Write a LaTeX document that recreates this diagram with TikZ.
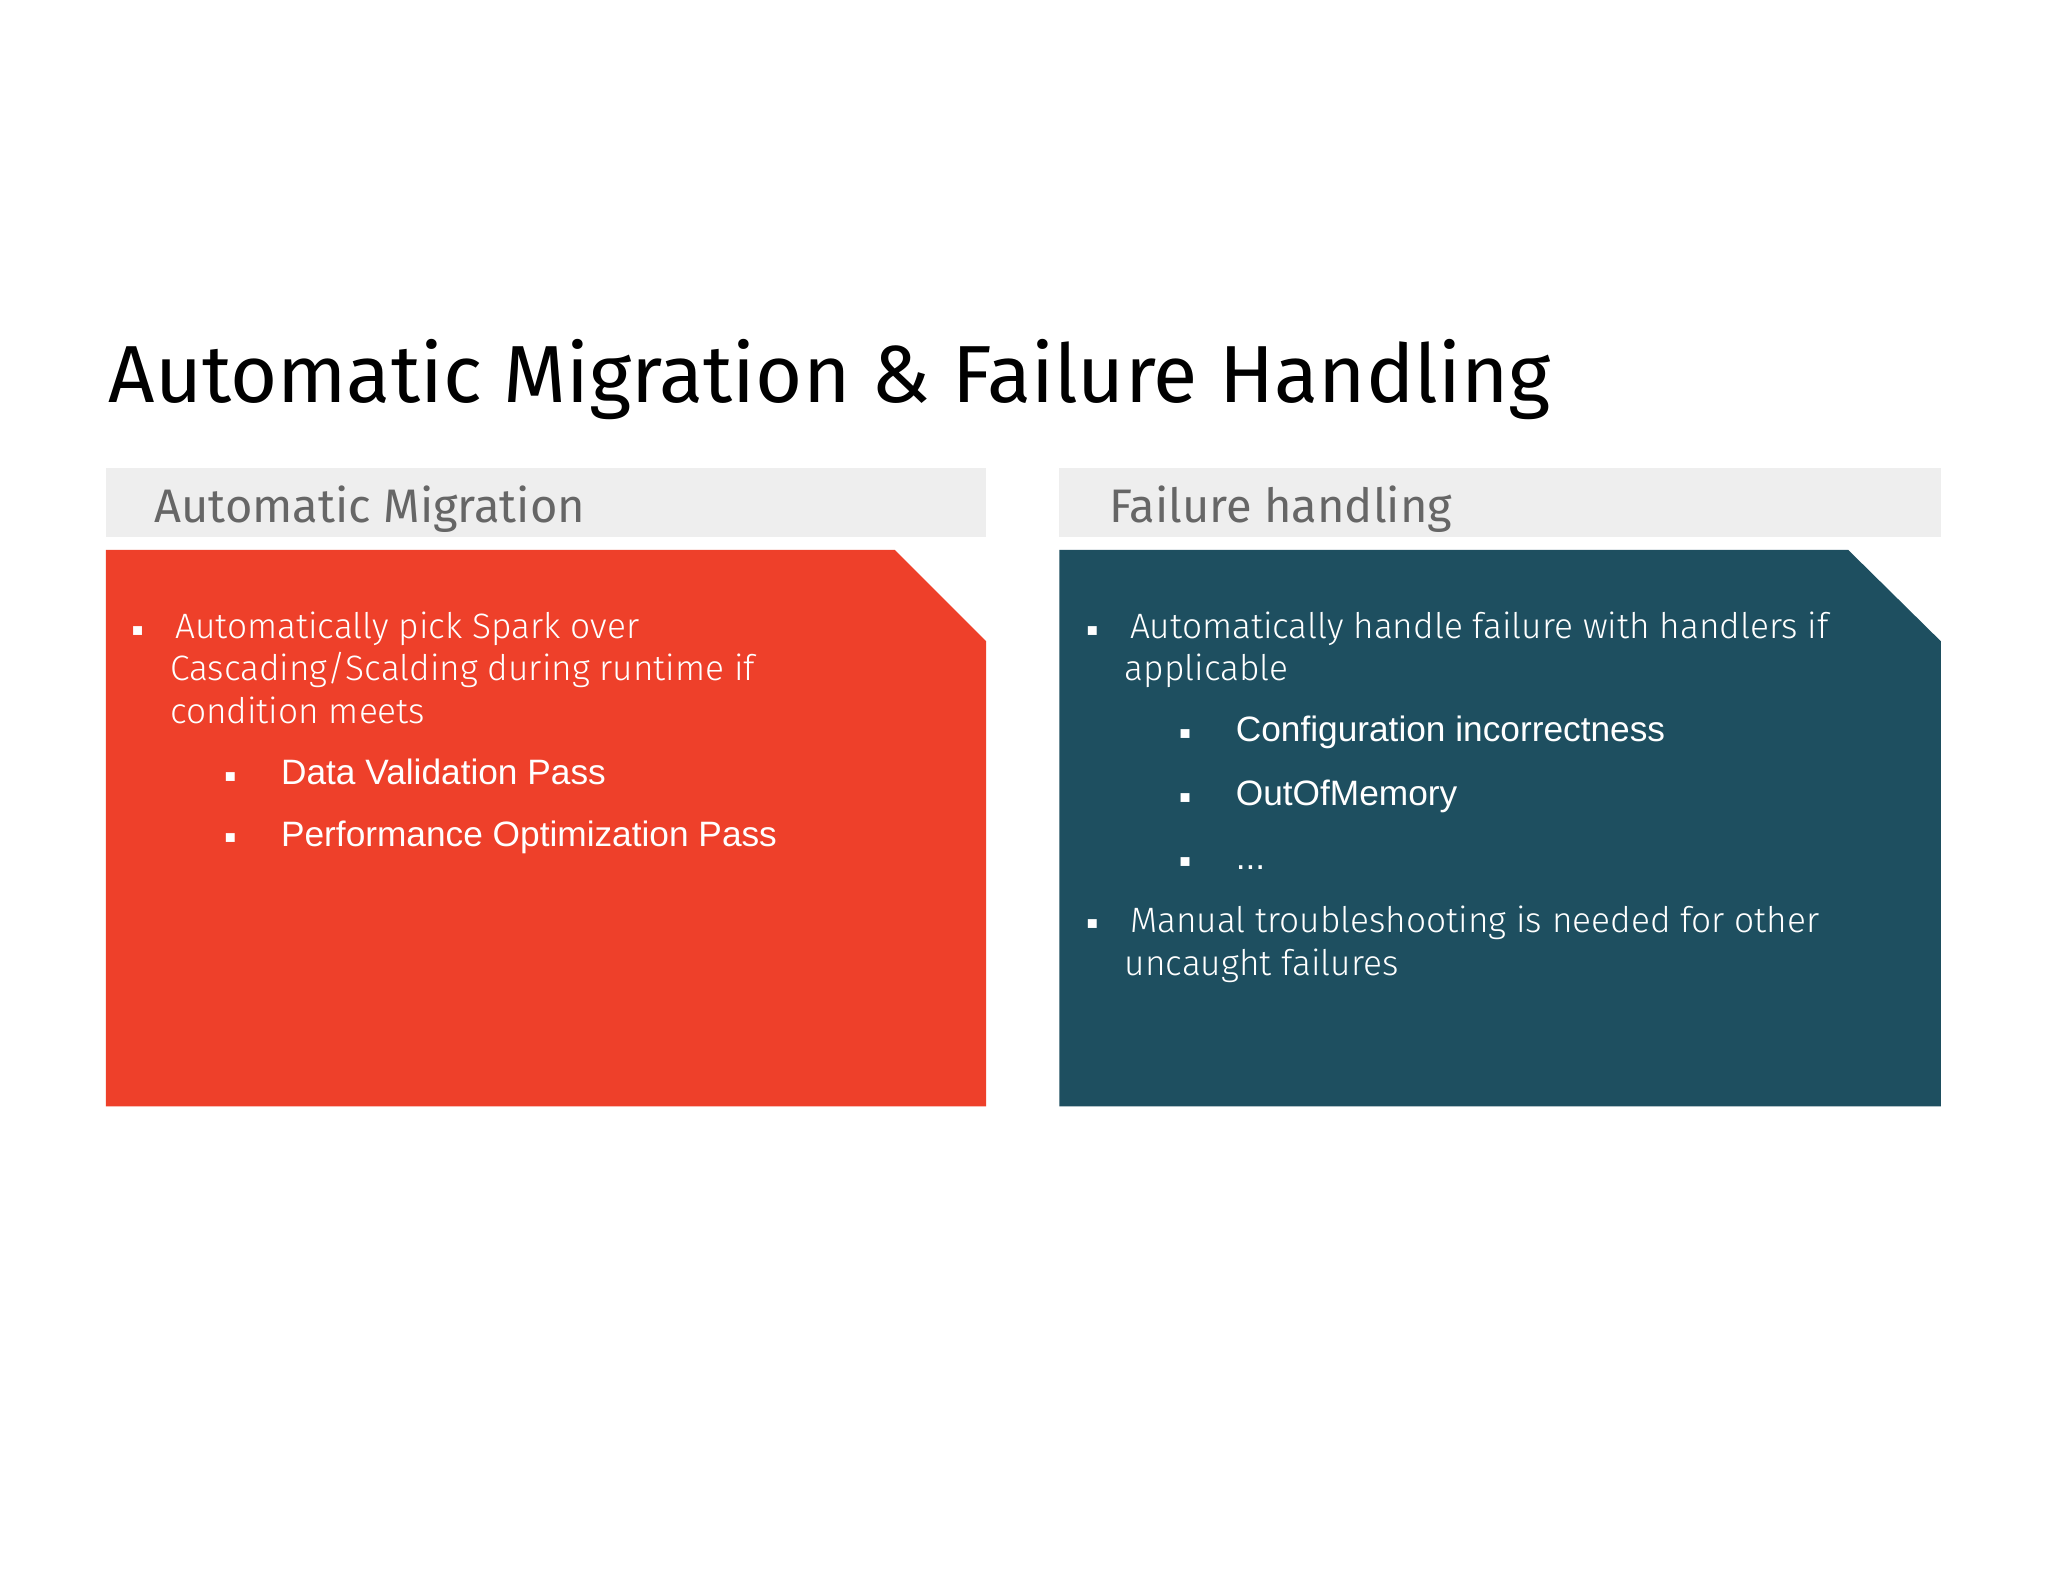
\documentclass[tikz,border=0pt]{standalone}
\usepackage{fontspec}
\setmainfont{Fira Sans Light}
\newfontfamily\arialf{Liberation Sans}
\newfontfamily\regf{Fira Sans}
\definecolor{redbox}{HTML}{EE402A}
\definecolor{tealbox}{HTML}{1E4F60}
\definecolor{hdrgray}{HTML}{EEEEEE}
\definecolor{hdrtext}{HTML}{666666}
\begin{document}
\begin{tikzpicture}[x=1pt,y=-1pt,
  txt/.style={anchor=base west,inner sep=0,text=white,font=\fontsize{27}{33}\selectfont},
  sub/.style={anchor=base west,inner sep=0,text=white,font=\arialf\fontsize{27}{33}\selectfont},
  bul/.style={anchor=base west,inner sep=0,text=white,font=\arialf\fontsize{14}{14}\selectfont},
  hdr/.style={anchor=base west,inner sep=0,text=hdrtext,font=\regf\fontsize{36}{36}\selectfont}]
\useasboundingbox[fill=white] (0,0) rectangle (1568,1211);
\node[anchor=base west,inner sep=0,font=\regf\fontsize{62}{62}\selectfont] (title) at (83,308) {Automatic Migration \& Failure Handling};
% headers
\fill[hdrgray] (81,358) rectangle (755,411);
\fill[hdrgray] (811,358) rectangle (1486,411);
\node[hdr] (h1) at (118,400) {Automatic Migration};
\node[hdr] (h2) at (849,400) {Failure handling};
% boxes
\fill[redbox] (81,421) -- (685,421) -- (755,491) -- (755,847) -- (81,847) -- cycle;
\fill[tealbox] (811,421) -- (1415,421) -- (1486,491) -- (1486,847) -- (811,847) -- cycle;
% left content
\node[bul] (lb1) at (101,487) {■};
\node[txt] (l1) at (134,489) {Automatically pick Spark over};
\node[txt] (l2) at (130,521) {Cascading/Scalding during runtime if};
\node[txt] (l3) at (130,554) {condition meets};
\node[bul] (lb2) at (172,599) {■};
\node[sub] (l4) at (215,601) {Data Validation Pass};
\node[bul] (lb3) at (172,646) {■};
\node[sub] (l5) at (215,648) {Performance Optimization Pass};
% right content
\node[bul] (rb1) at (832,487) {■};
\node[txt] (r1) at (865,489) {Automatically handle failure with handlers if};
\node[txt] (r2) at (861,521) {applicable};
\node[bul] (rb2) at (903,566) {■};
\node[sub] (r3) at (946,568) {Configuration incorrectness};
\node[bul] (rb3) at (903,615) {■};
\node[sub] (r4) at (946,617) {OutOfMemory};
\node[bul] (rb4) at (903,664) {■};
\node[sub] (r5) at (946,666) {...};
\node[bul] (rb5) at (832,712) {■};
\node[txt] (r6) at (865,714) {Manual troubleshooting is needed for other};
\node[txt] (r7) at (861,747) {uncaught failures};
\end{tikzpicture}
\end{document}
